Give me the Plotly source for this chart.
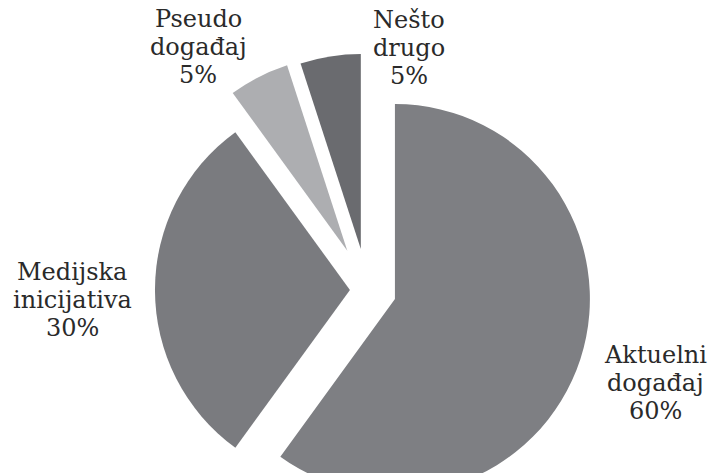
import plotly.graph_objects as go

# Share of news items by type of trigger
categories = ["Aktuelni događaj", "Medijska inicijativa", "Pseudo događaj", "Nešto drugo"]
shares = [60, 30, 5, 5]

# Slice styling
colors = ["#7e7f83", "#7a7b7f", "#adaeb1", "#6a6b6f"]
pulls = [0.149, 0.089, 0.226, 0.213]

# Label anchor points: centre of the middle text line, in pixels from the top-left corner
label_pos = {
    "Aktuelni događaj": (655, 383),
    "Medijska inicijativa": (72, 300),
    "Pseudo događaj": (198, 47),
    "Nešto drugo": (409, 48),
}
LINE_STEP = 28  # vertical distance between label lines, px

W, H = 709, 580

fig = go.Figure(
    go.Pie(
        labels=categories,
        values=shares,
        sort=False,
        direction="clockwise",
        rotation=0,
        pull=pulls,
        marker=dict(colors=colors, line=dict(width=0)),
        textinfo="none",
        textposition="none",
        hoverinfo="label+percent",
        domain=dict(x=[0.1809, 0.8552], y=[0, 1]),
    )
)

for name, val in zip(categories, shares):
    px, py = label_pos[name]
    lines = name.split(" ") + [f"{val}%"]
    for i, line in enumerate(lines):
        fig.add_annotation(
            x=px / W,
            y=1 - (py + (i - 1) * LINE_STEP) / H,
            xref="paper",
            yref="paper",
            xanchor="center",
            yanchor="middle",
            text=line,
            showarrow=False,
            font=dict(family="DejaVu Serif", size=24, color="#2a2a2a"),
        )

fig.update_layout(
    width=W,
    height=H,
    margin=dict(l=0, r=0, t=0, b=0),
    paper_bgcolor="white",
    plot_bgcolor="white",
    showlegend=False,
)

fig.write_html("out.html")
